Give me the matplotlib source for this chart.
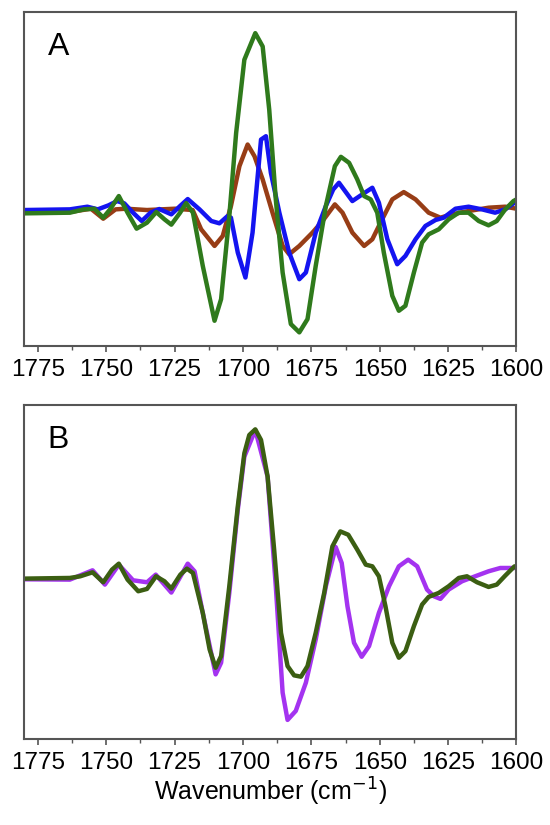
import matplotlib
matplotlib.use("Agg")
import matplotlib.pyplot as plt
from matplotlib.ticker import MultipleLocator

plt.rcParams['font.family'] = ['Liberation Sans', 'DejaVu Sans']

# ---------------- Panel A data ----------------
wn_green_a = [1780, 1763.3, 1758.2, 1754.3, 1751.1, 1748.6, 1745.4, 1742.2, 1738.9, 1735.1,
              1731.7, 1728.7, 1726.2, 1723.0, 1720.8, 1718.3, 1714.7, 1710.4, 1708.0, 1705.0,
              1702.5, 1699.5, 1695.5, 1692.8, 1690.4, 1688.0, 1685.5, 1682.5, 1679.4, 1676.4,
              1673.4, 1669.7, 1666.4, 1664.2, 1661.2, 1658.2, 1655.7, 1653.3, 1650.9, 1648.5,
              1645.4, 1643.0, 1640.6, 1637.5, 1634.5, 1632.1, 1628.4, 1624.8, 1621.1, 1617.5,
              1613.8, 1610.2, 1607.2, 1604.1, 1601.1, 1600]
val_green_a = [-0.12, -0.10, 0.00, 0.02, -0.25, 0.00, 0.40, -0.10, -0.58, -0.40,
               -0.08, -0.30, -0.46, -0.10, 0.19, -0.10, -1.70, -3.35, -2.70, -0.20,
               2.30, 4.50, 5.30, 4.90, 3.00, 0.30, -1.90, -3.45, -3.70, -3.30,
               -1.70, 0.10, 1.30, 1.58, 1.40, 0.90, 0.40, 0.30, -0.10, -1.30,
               -2.60, -3.05, -2.90, -1.90, -1.00, -0.75, -0.60, -0.30, -0.10, -0.10,
               -0.35, -0.48, -0.35, 0.00, 0.25, 0.30]

wn_blue_a = [1780, 1763.3, 1756.9, 1753.1, 1749.2, 1746.0, 1743.4, 1740.2, 1737.0, 1733.8,
             1730.6, 1726.2, 1723.0, 1720.2, 1715.9, 1711.6, 1708.6, 1705.6, 1704.4, 1701.9,
             1699.1, 1696.5, 1693.4, 1691.6, 1689.8, 1686.7, 1683.1, 1679.4, 1677.0, 1673.4,
             1669.7, 1667.0, 1664.9, 1660.0, 1656.4, 1652.7, 1650.3, 1647.2, 1643.6, 1640.6,
             1636.9, 1633.3, 1629.6, 1626.6, 1622.3, 1617.5, 1612.6, 1607.8, 1604.1, 1601.1,
             1600]
val_blue_a = [-0.02, 0.00, 0.08, 0.00, 0.12, 0.25, 0.18, -0.10, -0.35, -0.10,
              0.01, -0.15, 0.10, 0.31, 0.00, -0.35, -0.42, -0.20, -0.25, -1.30,
              -2.05, -0.70, 2.10, 2.20, 1.10, -0.10, -1.30, -2.10, -1.90, -0.70,
              0.10, 0.60, 0.80, 0.25, 0.45, 0.65, 0.20, -0.90, -1.65, -1.40,
              -0.90, -0.50, -0.32, -0.25, 0.02, 0.08, 0.00, -0.10, 0.00, 0.18,
              0.20]

wn_brown_a = [1780, 1763.3, 1755.6, 1751.1, 1746.6, 1742.8, 1735.1, 1724.8, 1718.4, 1715.3,
              1710.4, 1707.4, 1704.4, 1701.3, 1698.3, 1695.8, 1692.8, 1689.2, 1685.5, 1683.1,
              1679.4, 1674.6, 1670.9, 1666.4, 1663.6, 1660.0, 1655.7, 1652.7, 1649.1, 1645.4,
              1641.2, 1636.9, 1632.1, 1627.8, 1623.6, 1617.5, 1610.2, 1604.1, 1600]
val_brown_a = [-0.10, -0.08, 0.02, -0.28, 0.00, 0.02, -0.02, 0.02, -0.02, -0.60,
               -1.10, -0.80, 0.10, 1.30, 1.95, 1.60, 0.90, -0.10, -1.10, -1.35,
               -1.10, -0.70, -0.35, 0.15, -0.10, -0.70, -1.10, -0.90, -0.30, 0.30,
               0.52, 0.30, -0.10, -0.25, -0.15, -0.05, 0.05, 0.08, 0.02]

# ---------------- Panel B data ----------------
wn_green_b = [1780, 1763.3, 1759.5, 1755.0, 1751.1, 1747.9, 1745.4, 1742.2, 1738.3, 1735.1,
              1731.8, 1728.7, 1726.2, 1722.9, 1720.5, 1718.3, 1714.7, 1712.2, 1710.0, 1708.0,
              1705.0, 1701.9, 1699.5, 1697.7, 1695.5, 1693.4, 1691.0, 1688.6, 1686.1, 1683.7,
              1681.3, 1678.8, 1676.4, 1673.4, 1670.3, 1667.3, 1664.4, 1661.5, 1658.2, 1655.1,
              1652.7, 1650.3, 1647.9, 1645.4, 1643.0, 1640.6, 1637.5, 1634.5, 1632.1, 1628.4,
              1624.8, 1621.1, 1618.1, 1614.4, 1610.2, 1607.2, 1604.1, 1600.7]
val_green_b = [0.00, 0.02, 0.07, 0.19, -0.11, 0.27, 0.45, -0.03, -0.38, -0.31,
               0.07, -0.08, -0.30, 0.12, 0.30, 0.17, -1.03, -2.13, -2.68, -2.33,
               -0.23, 2.17, 3.77, 4.32, 4.49, 4.17, 3.07, 0.87, -1.63, -2.63,
               -2.91, -2.95, -2.63, -1.63, -0.43, 0.97, 1.42, 1.32, 0.87, 0.42,
               0.37, 0.07, -0.83, -1.93, -2.38, -2.18, -1.43, -0.78, -0.55, -0.43,
               -0.23, 0.02, 0.07, -0.11, -0.25, -0.18, 0.09, 0.37]

wn_purple_b = [1780, 1763.3, 1755.0, 1750.5, 1745.4, 1740.2, 1735.1, 1731.9, 1726.2, 1720.2,
               1717.7, 1714.7, 1710.0, 1708.0, 1705.0, 1701.9, 1699.5, 1695.5, 1691.0, 1688.0,
               1685.5, 1683.7, 1680.7, 1677.0, 1673.4, 1669.7, 1666.1, 1663.9, 1661.8, 1659.4,
               1656.6, 1653.9, 1650.3, 1646.6, 1643.0, 1639.6, 1636.3, 1632.7, 1630.2, 1627.8,
               1624.8, 1619.9, 1615.1, 1610.2, 1605.9, 1602.3, 1600.7]
val_purple_b = [-0.02, -0.03, 0.25, -0.18, 0.42, -0.05, -0.11, 0.12, -0.42, 0.45,
                0.22, -1.03, -2.88, -2.53, -0.43, 2.07, 3.67, 4.47, 3.07, -0.23,
                -3.43, -4.25, -3.98, -3.13, -1.83, -0.23, 0.95, 0.47, -0.83, -1.93,
                -2.35, -2.03, -1.03, -0.23, 0.37, 0.57, 0.37, -0.33, -0.53, -0.61,
                -0.33, -0.08, 0.07, 0.22, 0.32, 0.32, 0.32]

xticks = [1775, 1750, 1725, 1700, 1675, 1650, 1625, 1600]

fig = plt.figure(figsize=(5.5, 8.25), dpi=100)
ax_a = fig.add_axes([0.044, 0.581, 0.895, 0.405])
ax_b = fig.add_axes([0.044, 0.104, 0.895, 0.405])

LW = 3.2
kw = dict(lw=LW, solid_joinstyle='round', solid_capstyle='round')

ax_a.plot(wn_brown_a, val_brown_a, color='#973d16', **kw)
ax_a.plot(wn_blue_a, val_blue_a, color='#1414f0', **kw)
ax_a.plot(wn_green_a, val_green_a, color='#2f7a1c', **kw)
ax_a.set_ylim(-4.10, 5.95)

ax_b.plot(wn_purple_b, val_purple_b, color='#a433f0', **kw)
ax_b.plot(wn_green_b, val_green_b, color='#3b5e12', **kw)
ax_b.set_ylim(-4.83, 5.22)

for ax, letter in ((ax_a, 'A'), (ax_b, 'B')):
    ax.set_xlim(1780, 1600)
    ax.set_xticks(xticks)
    ax.xaxis.set_minor_locator(MultipleLocator(12.5))
    ax.set_yticks([])
    ax.tick_params(axis='x', which='major', direction='out', length=4.5, width=1.2,
                   color='#555555', labelsize=17.5, pad=5)
    ax.tick_params(axis='x', which='minor', direction='out', length=3, width=1.0,
                   color='#555555')
    for s in ax.spines.values():
        s.set_color('#555555')
        s.set_linewidth(1.5)
    ax.text(0.069, 0.895, letter, transform=ax.transAxes, fontsize=23,
            ha='center', va='center')

ax_b.set_xlabel('Wavenumber (cm$^{-1}$)', fontsize=18, labelpad=1)

fig.savefig('out.png', dpi=100)
